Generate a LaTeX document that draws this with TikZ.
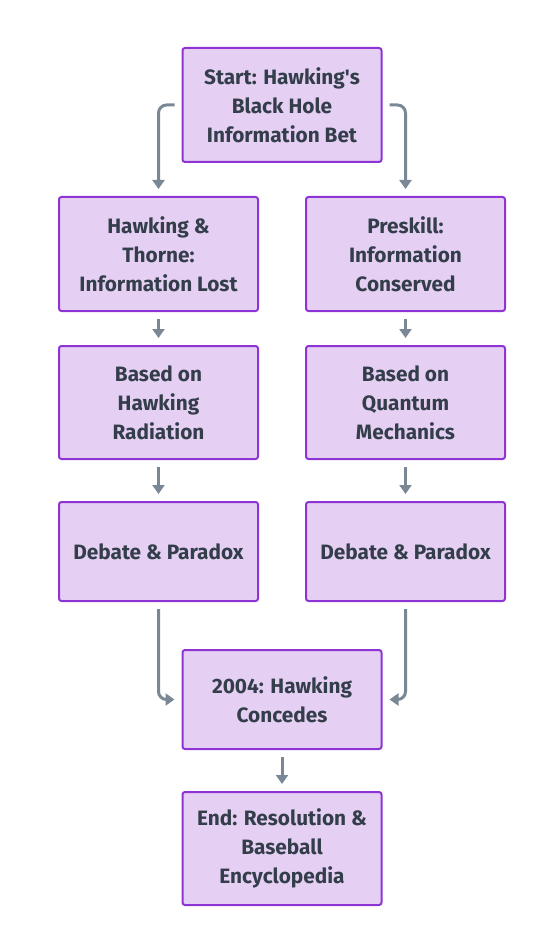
\documentclass[tikz,border=0pt]{standalone}
\usepackage{fontspec}
\setmainfont{Fira Sans}
\usetikzlibrary{arrows.meta}
\definecolor{boxfill}{RGB}{229,208,244}
\definecolor{boxline}{RGB}{143,52,212}
\definecolor{arrowc}{RGB}{122,136,150}
\definecolor{textc}{RGB}{51,62,74}
\tikzset{
  stepbox/.style={draw=boxline, fill=boxfill, line width=2pt, rounded corners=2.5pt,
    minimum width=199pt, align=center, text=textc, font=\fontsize{20.8}{29}\selectfont\bfseries},
  conn/.style={draw=arrowc, line width=3pt, -{Triangle[length=9pt,width=12pt]}, rounded corners=8pt,
    shorten >=7pt, shorten <=7pt}
}
\begin{document}
\begin{tikzpicture}[x=1pt,y=-1pt]
\useasboundingbox (0,0) rectangle (553,933);
\node[stepbox, minimum height=114pt] (start) at (282,105) {Start: Hawking\textquotesingle s\\Black Hole\\Information Bet};
\node[stepbox, minimum height=114pt] (ht) at (158.5,254) {Hawking \&\\Thorne:\\Information Lost};
\node[stepbox, minimum height=114pt] (pr) at (405.5,254) {Preskill:\\Information\\Conserved};
\node[stepbox, minimum height=113pt] (hr) at (158.5,402.5) {Based on\\Hawking\\Radiation};
\node[stepbox, minimum height=113pt] (qm) at (405.5,402.5) {Based on\\Quantum\\Mechanics};
\node[stepbox, minimum height=99pt] (d1) at (158.5,551.5) {Debate \& Paradox};
\node[stepbox, minimum height=99pt] (d2) at (405.5,551.5) {Debate \& Paradox};
\node[stepbox, minimum height=99pt] (hc) at (282,699.5) {2004: Hawking\\Concedes};
\node[stepbox, minimum height=113pt] (end) at (282,848.5) {End: Resolution \&\\Baseball\\Encyclopedia};
\draw[conn] (start.west) -| (ht.north);
\draw[conn] (start.east) -| (pr.north);
\draw[conn] (ht) -- (hr);
\draw[conn] (pr) -- (qm);
\draw[conn] (hr) -- (d1);
\draw[conn] (qm) -- (d2);
\draw[conn] (d1.south) |- (hc.west);
\draw[conn] (d2.south) |- (hc.east);
\draw[conn] (hc) -- (end);
\end{tikzpicture}
\end{document}
